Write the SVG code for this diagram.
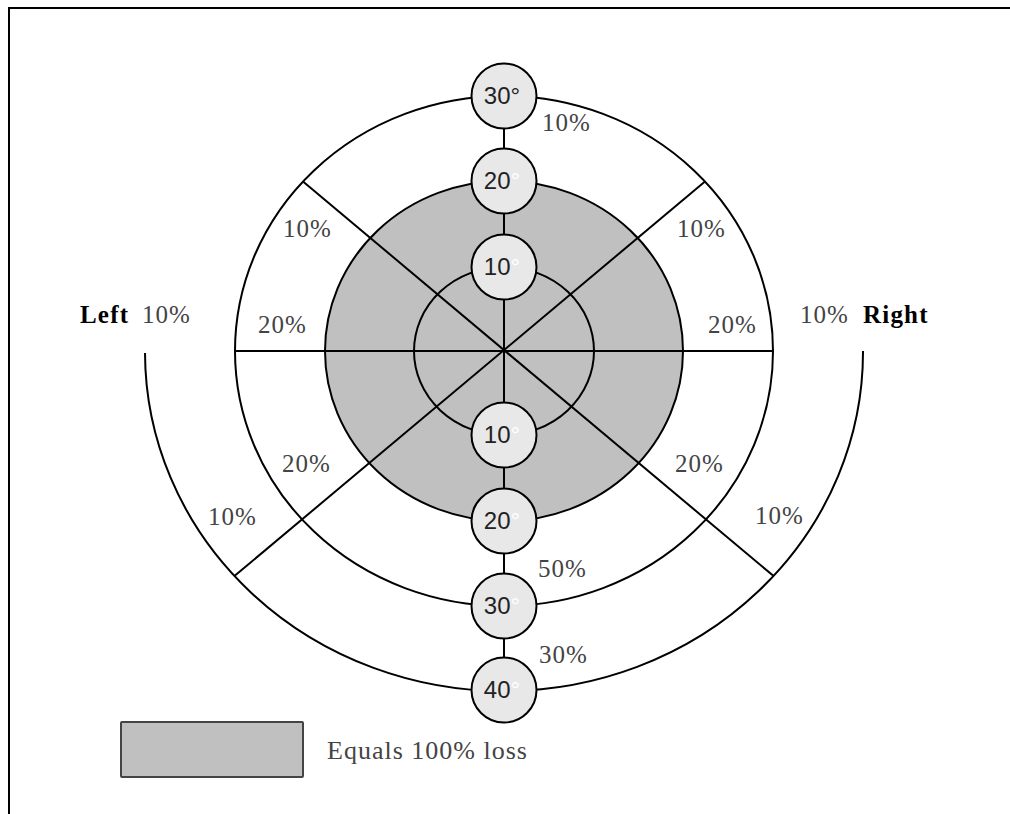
<svg xmlns="http://www.w3.org/2000/svg" width="1010" height="814" viewBox="0 0 1010 814">
<style>
.ln{stroke:#000;stroke-width:2;fill:none}
.node circle{fill:#e8e8e8;stroke:#000;stroke-width:2}
.nl{font-family:"Liberation Sans",Arial,sans-serif;font-size:24px;fill:#222;text-anchor:middle}
.pc{font-family:"Liberation Serif","Times New Roman",serif;font-size:25px;fill:#444;letter-spacing:1px}
.bd{font-family:"Liberation Serif","Times New Roman",serif;font-size:25px;font-weight:bold;fill:#000;letter-spacing:1.2px}
.dg{fill:#fff}
</style>
<rect x="0" y="0" width="1010" height="814" fill="#fff"/>
<g id="frame">
<polyline class="ln" points="9,814 9,8 1010,8" stroke-width="2.5"/>
</g>
<g id="rings">
<ellipse cx="504" cy="351" rx="269" ry="255" fill="#fff" stroke="#000" stroke-width="2"/>
<ellipse cx="504" cy="351" rx="179" ry="170" fill="#c0c0c0" stroke="#000" stroke-width="2"/>
<ellipse cx="504" cy="351" rx="90" ry="84" class="ln"/>
<path class="ln" d="M145,353 A359,339 0 0 0 863,351"/>
</g>
<g id="connectors">
<line class="ln" x1="234" y1="351" x2="773" y2="351"/>
<line class="ln" x1="303" y1="181.5" x2="773" y2="575.6"/>
<line class="ln" x1="705" y1="181.5" x2="235" y2="575.6"/>
<line class="ln" x1="504" y1="96" x2="504" y2="690"/>
</g>
<g id="n30top" class="node"><circle cx="504" cy="96" r="32.5"/><text class="nl" x="502" y="104">30°</text></g>
<g id="n20top" class="node"><circle cx="504" cy="181" r="32.5"/><text class="nl" x="502" y="189">20<tspan class="dg">°</tspan></text></g>
<g id="n10top" class="node"><circle cx="504" cy="267" r="32.5"/><text class="nl" x="502" y="275">10<tspan class="dg">°</tspan></text></g>
<g id="n10bot" class="node"><circle cx="504" cy="435" r="32.5"/><text class="nl" x="502" y="443">10<tspan class="dg">°</tspan></text></g>
<g id="n20bot" class="node"><circle cx="504" cy="521" r="32.5"/><text class="nl" x="502" y="529">20<tspan class="dg">°</tspan></text></g>
<g id="n30bot" class="node"><circle cx="504" cy="606" r="32.5"/><text class="nl" x="502" y="614">30<tspan class="dg">°</tspan></text></g>
<g id="n40" class="node"><circle cx="504" cy="690" r="32.5"/><text class="nl" x="502" y="698">40<tspan class="dg">°</tspan></text></g>
<g id="labels">
<text class="pc" x="542" y="131">10%</text>
<text class="pc" x="283" y="237">10%</text>
<text class="pc" x="677" y="237">10%</text>
<text class="bd" x="80" y="323">Left</text>
<text class="pc" x="142" y="323">10%</text>
<text class="pc" x="258" y="333">20%</text>
<text class="pc" x="708" y="333">20%</text>
<text class="pc" x="800" y="323">10%</text>
<text class="bd" x="863" y="323">Right</text>
<text class="pc" x="282" y="472">20%</text>
<text class="pc" x="208" y="525">10%</text>
<text class="pc" x="675" y="472">20%</text>
<text class="pc" x="755" y="524">10%</text>
<text class="pc" x="538" y="577">50%</text>
<text class="pc" x="539" y="663">30%</text>
</g>
<g id="legend">
<rect x="121" y="722" width="182" height="55" fill="#c0c0c0" stroke="#444" stroke-width="2" rx="1"/>
<text class="pc" x="327" y="759" style="font-size:26px">Equals 100% loss</text>
</g>
</svg>
